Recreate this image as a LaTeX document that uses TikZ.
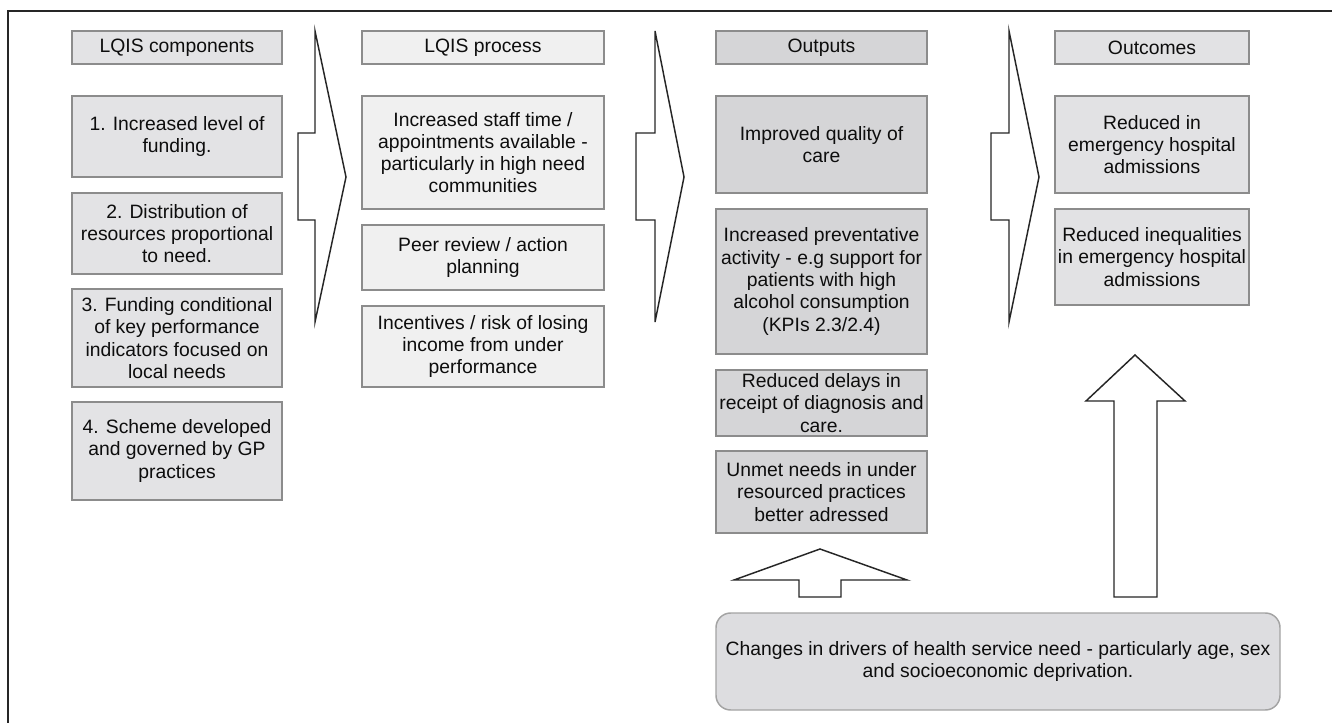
\documentclass[tikz,border=0pt]{standalone}
\usepackage{fontspec}
\setmainfont{Liberation Sans}
\usepackage{xcolor}
\usetikzlibrary{positioning}

\definecolor{boxGray}{HTML}{8C8C8C}
\definecolor{compFill}{HTML}{E3E3E5}
\definecolor{procFill}{HTML}{F0F0F0}
\definecolor{outFill}{HTML}{D5D5D7}
\definecolor{ocFill}{HTML}{E2E2E4}
\definecolor{driverFill}{HTML}{DDDDE0}

\begin{document}
\begin{tikzpicture}[x=0.75pt,y=-0.75pt]

    \tikzstyle{commonNode}=[draw=boxGray, line width=1.1pt, align=center, inner sep=0pt, text=black!95, font=\fontsize{14.5}{16.7}\selectfont]
    \tikzstyle{component}=[commonNode, fill=compFill, minimum width=157.5pt]
    \tikzstyle{process}=[commonNode, fill=procFill, minimum width=181.5pt]
    \tikzstyle{output}=[commonNode, fill=outFill, minimum width=158.25pt]
    \tikzstyle{outcome}=[commonNode, fill=ocFill, minimum width=145.5pt]
    \tikzstyle{driver}=[commonNode, fill=driverFill, draw=boxGray!80, rounded corners=11pt, minimum width=423pt]
    \tikzstyle{blockArrow}=[draw=black!85, line width=1.1pt, fill=white]

    \useasboundingbox (0,0) rectangle (1332,723);

    % Frame
    \draw[line width=1.2pt, black!85] (8,723) -- (8,11) -- (1332,11);

    \begin{scope}
        % Row heights (in px of the page)
        \def \px {0.75pt}
        \def \headY {47.5}

        % LQIS components
        \node at (177, \headY) [component, minimum height=33*\px]  (compHead) {LQIS components};
        \node at (177, 136.5)  [component, minimum height=81*\px]  (comp1)    {1. Increased level of \\ funding.};
        \node at (177, 233.5)  [component, minimum height=81*\px]  (comp2)    {2. Distribution of \\ resources proportional \\ to need.};
        \node at (177, 338)    [component, minimum height=98*\px]  (comp3)    {3. Funding conditional \\ of key performance \\ indicators focused on \\ local needs};
        \node at (177, 451)    [component, minimum height=98*\px]  (comp4)    {4. Scheme developed \\ and governed by GP \\ practices};

        % LQIS process
        \node at (483, \headY) [process, minimum height=33*\px]   (procHead) {LQIS process};
        \node at (483, 152.5)  [process, minimum height=113*\px]  (proc1)    {Increased staff time / \\ appointments available - \\ particularly in high need \\ communities};
        \node at (483, 257.5)  [process, minimum height=65*\px]   (proc2)    {Peer review / action \\ planning};
        \node at (483, 346.5)  [process, minimum height=81*\px]   (proc3)    {Incentives / risk of losing \\ income from under \\ performance};

        % Outputs
        \node at (821.5, \headY) [output, minimum height=33*\px]   (outHead) {Outputs};
        \node at (821.5, 144.5)  [output, minimum height=97*\px]   (out1)    {Improved quality of \\ care};
        \node at (821.5, 281.5)  [output, minimum height=145*\px]  (out2)    {Increased preventative \\ activity - e.g support for \\ patients with high \\ alcohol consumption \\ (KPIs 2.3/2.4)};
        \node at (821.5, 403)    [output, minimum height=66*\px]   (out3)    {Reduced delays in \\ receipt of diagnosis and \\ care.};
        \node at (821.5, 492)    [output, minimum height=82*\px]   (out4)    {Unmet needs in under \\ resourced practices \\ better adressed};

        % Outcomes
        \node at (1152, \headY) [outcome, minimum height=33*\px]  (ocHead) {Outcomes};
        \node at (1152, 144.5)  [outcome, minimum height=97*\px]  (oc1)    {Reduced in \\ emergency hospital \\ admissions};
        \node at (1152, 257)    [outcome, minimum height=96*\px]  (oc2)    {Reduced inequalities \\ in emergency hospital \\ admissions};

        % Drivers
        \node at (998, 661.5) [driver, minimum height=97*\px] (drivers) {Changes in drivers of health service need - particularly age, sex \\ and socioeconomic deprivation.};
    \end{scope}

    % Chevrons between the columns
    \foreach \xv/\xn/\xt in {315/298/346, 655/636/684, 1009/991/1039}
        \draw[blockArrow] (\xv,31) -- (\xt,177) -- (\xv,322) -- (\xv,220) -- (\xn,220) -- (\xn,133) -- (\xv,133) -- cycle;

    % Up arrows from the drivers
    \draw[blockArrow] (799,597) -- (799,580) -- (734,580) -- (820,549) -- (907,580) -- (841,580) -- (841,597) -- cycle;
    \draw[blockArrow] (1114,597) -- (1114,401) -- (1086,401) -- (1135,355) -- (1185,401) -- (1157,401) -- (1157,597) -- cycle;

\end{tikzpicture}
\end{document}
